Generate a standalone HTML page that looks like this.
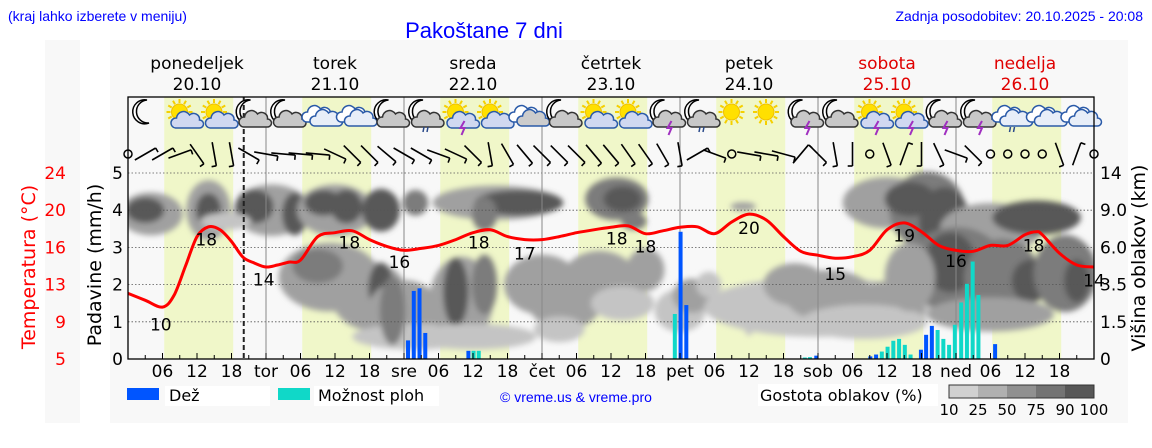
<!DOCTYPE html>
<html><head><meta charset="utf-8">
<style>
html,body{margin:0;padding:0;background:#fff;}
body{width:1152px;height:443px;overflow:hidden;font-family:"Liberation Sans","DejaVu Sans",sans-serif;}
svg text{font-family:"DejaVu Sans","Liberation Sans",sans-serif;}
</style></head>
<body>
<svg id="chart" width="1152" height="443" viewBox="0 0 1152 443" xmlns="http://www.w3.org/2000/svg">
<defs>
<filter id="blur" x="-20%" y="-20%" width="140%" height="140%"><feGaussianBlur stdDeviation="3"/></filter>
<clipPath id="plotclip"><rect x="128" y="160" width="966" height="199"/></clipPath>
</defs>
<rect x="45" y="40" width="35" height="383" fill="#f8f8f8"/>
<rect x="110" y="40" width="1018" height="383" fill="#f8f8f8"/>
<text x="8" y="21" font-size="14" fill="#0000ff" style="font-family:'Liberation Sans',sans-serif">(kraj lahko izberete v meniju)</text>
<text x="484" y="38" font-size="22" fill="#0000ff" text-anchor="middle" style="font-family:'Liberation Sans',sans-serif">Pakoštane 7 dni</text>
<text x="1143" y="21" font-size="14" fill="#0000ff" text-anchor="end" style="font-family:'Liberation Sans',sans-serif">Zadnja posodobitev: 20.10.2025 - 20:08</text>
<g id="days"></g>
<g id="bands"></g>
<g id="clouds" clip-path="url(#plotclip)" filter="url(#blur)"></g>
<g id="grid"></g>
<g id="bars"></g>
<g id="temp"></g>
<g id="icons"></g>
<g id="wind"></g>
<g id="axes"></g>
<g id="legend">
<rect x="127" y="388" width="32" height="12" fill="#0055ff"/>
<rect x="165" y="386" width="105" height="20" fill="#fff"/>
<text x="169" y="401" font-size="16">Dež</text>
<rect x="278" y="388" width="32" height="12" fill="#10d8c8"/>
<rect x="314" y="386" width="125" height="20" fill="#fff"/>
<text x="318" y="401" font-size="16">Možnost ploh</text>
<text x="500" y="402" font-size="14" fill="#0000ff" style="font-family:'Liberation Sans',sans-serif">© vreme.us &amp; vreme.pro</text>
<rect x="758" y="384" width="180" height="22" fill="#fff"/>
<text x="760" y="401" font-size="16">Gostota oblakov (%)</text>
</g>
</svg>
<script>
const NS='http://www.w3.org/2000/svg';
// ---- data ----
const dayNames=['ponedeljek','torek','sreda','četrtek','petek','sobota','nedelja'];
const dayDates=['20.10','21.10','22.10','23.10','24.10','25.10','26.10'];
const dayAbbr=['tor','sre','čet','pet','sob','ned'];
const tempHours=[0,3,6,8,10,12,14,16,18,20,22,24,26,28,30,33,36,39,42,45,48,51,54,57,60,63,66,69,72,75,78,81,84,87,90,93,96,99,102,105,108,111,114,117,120,123,126,129,132,135,138,141,144,147,150,153,156,158,159,162,165,168];
const tempValues=[11.7,11.0,10.3,11.5,14.5,17.5,18.5,18.2,17.0,15.4,14.8,14.4,14.6,14.9,15.1,17.5,17.9,18.1,17.2,16.5,16.1,16.3,16.6,17.2,17.9,18.2,17.5,17.2,17.2,17.5,17.9,18.2,18.45,18.6,17.8,18.1,18.45,18.5,17.8,19.0,19.8,19.2,17.5,16.0,15.6,15.3,15.45,16.1,18.2,18.9,18.0,16.6,16.1,16.0,16.6,16.6,17.7,18.0,17.7,15.8,14.6,14.4];
const tempLabelHours=[5.7,13.6,23.6,38.5,47.2,61,69,85,90,108,123,135,144,157.5,168];
const tempLabelTexts=['10','18','14','18','16','18','17','18','18','20','15','19','16','18','14'];
const tempLabelValues=[8.5,17.2,13.1,16.9,14.9,16.9,15.8,17.3,16.5,18.4,13.7,17.6,15.0,16.6,13.0];
const rainHours=[48.7,49.7,50.7,51.7,59.2,60.1,61.0,95.1,96.1,97.1,117.7,118.6,119.7,129.1,130.1,131.1,132.1,133.1,134.1,135.1,136.1,137.9,138.8,139.8,140.8,141.8,142.8,143.8,144.9,145.9,146.9,147.9,150.8];
const rainValues=[0.5,1.83,1.9,0.7,0.22,0.22,0.22,1.21,3.42,1.45,0.04,0.05,0.09,0.07,0.12,0.2,0.33,0.49,0.54,0.38,0.12,0.25,0.65,0.89,0.78,0.54,0.38,0.92,1.52,2.02,2.62,1.72,0.4];
const rainType=[0,0,0,0,0,1,1,1,0,0,1,1,0,0,0,1,1,1,1,1,1,0,0,0,1,1,1,1,1,1,1,1,0];
const leftTicks=[0,1,2,3,4,5];
const tempTicks=['5','9','13','16','20','24'];
const cloudTicks=['0','1.5','3.5','6.0','9.0','14'];
const windAngles=[null,-30,-30,-20,55,80,80,30,10,5,5,5,25,45,45,40,30,30,20,25,45,80,60,50,45,45,45,50,50,55,55,60,80,-30,20,null,10,10,15,-50,45,80,90,null,70,-70,90,65,20,45,null,null,null,null,70,-70,null];
const iconTypes=['moon','sunc','sunc','moonc','moonc','cloud','cloud','moonc','moonr','sunl','sunc','cloudg','moonc','sunc','sunc','moonl','moonr','sun','sun','moonl','moonc','sunl','sunl','moonl','moonl','cloudr','cloud','cloud'];
// cloud blobs: hour, level(mm scale), half-width(h), half-height, shade
const cloudBlobs=[[4,3.9,5,0.5,1],[3,4.0,3,0.3,3],[14,4.0,3.5,0.7,1],[14,4.0,2,0.4,3],[25,4.0,6,0.6,1],[22,4.1,3,0.4,3],[29,3.9,2,0.5,3],[17,3.7,4,0.2,0],
[36,4.0,6,0.6,1],[34,4.2,3,0.3,3],[38,4.1,2.5,0.4,3],[44,4.0,3,0.5,3],[50,4.2,2,0.3,2],
[35,2.2,8,0.8,1],[33,2.5,4,0.4,2],[42,1.7,6,0.8,1],[44,1.9,2,0.6,3],[48,1.2,6,0.8,1],[50,0.6,10,0.3,0],[46,1.3,2,0.8,2],
[58,1.6,5,1.0,1],[57,1.8,2,0.8,3],[62,2.0,2,0.7,2],[60,0.6,10,0.3,0],[64,4.2,10,0.4,1],[68,4.2,7,0.3,3],[62,3.9,2,0.4,2],
[72,2.0,6,0.7,1],[76,1.6,6,0.7,1],[82,2.1,6,0.7,1],[86,1.5,5,0.4,0],[90,2.4,3,0.5,1],[75,0.8,4,0.3,0],[85,4.3,5,0.5,2],[86,4.3,3,0.3,3],[88,3.7,2,0.2,2],
[96,1.3,4,0.5,0],[98,1.7,3,0.4,1],[101,2.0,2,0.3,0],
[120,1.4,18,0.7,0],[116,2.0,5,0.5,1],[122,1.7,7,0.6,1],[132,1.4,6,0.6,1],[128,1.0,10,0.4,0],[108,1.2,1,0.5,0],[107,4.1,2,0.1,1],
[132,4.2,7,0.6,1],[139,4.0,6,0.9,2],[136,4.3,4,0.4,3],[142,3.7,4,0.8,3],[150,3.5,8,0.6,1],[158,3.8,7,0.4,3],[144,2.4,8,1.0,2],[143,2.6,4,0.7,3],[152,2.2,6,0.9,2],[157,2.1,3,0.5,3],[163,2.3,5,0.9,2],[165,2.1,2,0.5,3],[136,2.2,4,0.8,1],[150,1.2,10,0.4,1]];
const densityLabels=['10','25','50','75','90','100'];
// ---- scales ----
const X0=128,HW=5.75,Y0=359,MM=37.2;
const xs=h=>X0+h*HW;
const ys=v=>Y0-v*MM;
const yt=t=>Y0-(t-5)*186/19;
function mk(tag,attrs,parent){const e=document.createElementNS(NS,tag);for(const k in attrs)e.setAttribute(k,attrs[k]);parent.appendChild(e);return e;}
const G=id=>document.getElementById(id);
const shades=['#c4c4c4','#a0a0a0','#7c7c7c','#585858'];
// days
for(let d=0;d<7;d++){
  const cx=xs(d*24+12);const red=d>=5;
  let t=mk('text',{x:cx,y:69,'font-size':17,'text-anchor':'middle',fill:red?'#e00000':'#000'},G('days'));
  t.textContent=dayNames[d];
  
  
  t=mk('text',{x:cx,y:90,'font-size':17,'text-anchor':'middle',fill:red?'#e00000':'#000'},G('days'));
  t.textContent=dayDates[d];
  
  
  let b=mk('rect',{x:xs(d*24+6.3),y:97,width:12*HW,height:262,fill:'#f0f7c9'},G('bands'));
  
  
}
// clouds
cloudBlobs.forEach(c=>{
  const e=mk('ellipse',{cx:xs(c[0]),cy:ys(c[1]),rx:c[2]*HW*1.1,ry:c[3]*MM*1.15,fill:shades[c[4]]},G('clouds'));
  
  
});
// grid
leftTicks.forEach(v=>{if(v>0){const l=mk('line',{x1:128,x2:1094,y1:ys(v),y2:ys(v),stroke:'#555','stroke-width':0.8,'stroke-dasharray':'1.5,2'},G('grid'));}});
for(let d=1;d<7;d++){const l=mk('line',{x1:xs(d*24),x2:xs(d*24),y1:97,y2:359,stroke:'#888','stroke-width':1},G('grid'));}
const nowL=mk('line',{x1:xs(20.13),x2:xs(20.13),y1:97,y2:359,stroke:'#222','stroke-width':2,'stroke-dasharray':'5,3'},G('grid'));


// bars
rainHours.forEach((h,i)=>{
  const v=rainValues[i];
  const r=mk('rect',{x:xs(h)-2,y:ys(v),width:4,height:v*MM,fill:rainType[i]?'#10d8c8':'#0055ff'},G('bars'));
  
  
});
// temp line (smooth)
(function(){
  const pts=tempHours.map((h,i)=>[xs(h),yt(tempValues[i])]);
  let d='M'+pts[0][0]+','+pts[0][1];
  for(let i=0;i<pts.length-1;i++){
    const p0=pts[Math.max(0,i-1)],p1=pts[i],p2=pts[i+1],p3=pts[Math.min(pts.length-1,i+2)];
    const c1=[p1[0]+(p2[0]-p0[0])/6,p1[1]+(p2[1]-p0[1])/6],c2=[p2[0]-(p3[0]-p1[0])/6,p2[1]-(p3[1]-p1[1])/6];
    d+=' C'+c1[0].toFixed(1)+','+c1[1].toFixed(1)+' '+c2[0].toFixed(1)+','+c2[1].toFixed(1)+' '+p2[0].toFixed(1)+','+p2[1].toFixed(1);
  }
  const p=mk('path',{d:d,fill:'none',stroke:'#ff0000','stroke-width':3},G('temp'));
  
  
  tempLabelHours.forEach((h,i)=>{
    const t=mk('text',{x:xs(h),y:yt(tempLabelValues[i])+6,'font-size':17,'text-anchor':'middle',fill:'#000'},G('temp'));
    t.textContent=tempLabelTexts[i];
    
    
  });
})();
// icons
function moon(g,x,y){mk('path',{d:`M${x+3},${y-12} A12,12 0 1,0 ${x+5},${y+11} A10,10 0 1,1 ${x+3},${y-12}Z`,fill:'#fff',stroke:'#000','stroke-width':1.5},g);}
function sun(g,x,y){for(let a=0;a<360;a+=30){const r=a*Math.PI/180;mk('line',{x1:x+Math.cos(r)*9,y1:y+Math.sin(r)*9,x2:x+Math.cos(r)*13,y2:y+Math.sin(r)*13,stroke:'#f5d000','stroke-width':2},g);}mk('circle',{cx:x,cy:y,r:8,fill:'#ffe000',stroke:'#f0c000'},g);}
function cloud(g,x,y,fill,st){mk('path',{d:`M${x-12},${y+7} a5,5 0 0,1 1,-10 a7,7 0 0,1 13,-3 a6,6 0 0,1 10,5 a4,4 0 0,1 0,8 Z`,fill:fill,stroke:st,'stroke-width':1.5},g);}
iconTypes.forEach((t,i)=>{
  const x=148+34.5*i,y=115;
  const g=mk('g',{},G('icons'));
  
  
  if(t.startsWith('moon')){moon(g,x-4,y-3);if(t!=='moon')cloud(g,x+4,y+5,'#c8c8c8','#333');}
  if(t.startsWith('sun')){sun(g,x-3,y-3);if(t!=='sun')cloud(g,x+5,y+6,'#d0d8f0','#2a5aa8');}
  if(t.startsWith('cloud')){cloud(g,x-2,y,'#fff','#2a5aa8');cloud(g,x+6,y+4,t==='cloudg'?'#ccc':'#e8eef8','#2a5aa8');}
  if(t.endsWith('l')){mk('path',{d:`M${x+6},${y+6} l-4,7 h4 l-3,7`,fill:'none',stroke:'#a030c0','stroke-width':2},g);}
  if(t.endsWith('r')){mk('path',{d:`M${x},${y+12} l-1,5 M${x+4},${y+12} l-1,5`,stroke:'#2a4a8a','stroke-width':1.5},g);}
});
// wind
windAngles.forEach((a,i)=>{
  const x=xs(i*3),y=154;
  const g=mk('g',{},G('wind'));
  
  
  if(a===null){mk('circle',{cx:x,cy:y,r:4,fill:'none',stroke:'#000','stroke-width':1.5},g);return;}
  const r=a*Math.PI/180,L=12;
  const dx=Math.cos(r)*L,dy=Math.sin(r)*L;
  mk('line',{x1:x-dx,y1:y-dy,x2:x+dx,y2:y+dy,stroke:'#000','stroke-width':1.6},g);
  mk('line',{x1:x+dx,y1:y+dy,x2:x+dx-dy*0.4,y2:y+dy+dx*0.4,stroke:'#000','stroke-width':1.6},g);
});
// axes
(function(){
  const ax=G('axes');
  mk('rect',{x:128,y:97,width:966,height:262,fill:'none',stroke:'#000','stroke-width':1.3},ax);
  leftTicks.forEach((v,i)=>{
    let t=mk('text',{x:123,y:ys(v)+6,'font-size':17,'text-anchor':'end'},ax);t.textContent=v;
    
    
    t=mk('text',{x:66,y:ys(v)+6,'font-size':17,'text-anchor':'end',fill:'#ff0000'},ax);t.textContent=tempTicks[i];
    
    
    t=mk('text',{x:1100,y:ys(v)+6,'font-size':17},ax);t.textContent=cloudTicks[i];
    
    
  });
  for(let h=3;h<168;h+=3){mk('line',{x1:xs(h),x2:xs(h),y1:359,y2:h%6?355:353,stroke:'#000','stroke-width':1},ax);}
  for(let h=6;h<168;h+=6){
    const t=mk('text',{x:xs(h),y:377,'font-size':17,'text-anchor':'middle'},ax);
    t.textContent=h%24===0?dayAbbr[h/24-1]:String(h%24).padStart(2,'0');
    
    
  }
  let t=mk('text',{x:0,y:0,'font-size':19,'text-anchor':'middle',transform:'translate(101,265) rotate(-90)'},ax);t.textContent='Padavine (mm/h)';
  
  t=mk('text',{x:0,y:0,'font-size':19,'text-anchor':'middle',fill:'#ff0000',transform:'translate(35,267) rotate(-90)'},ax);t.textContent='Temperatura (°C)';
  
  t=mk('text',{x:0,y:0,'font-size':19,'text-anchor':'middle',transform:'translate(1145,258) rotate(-90)'},ax);t.textContent='Višina oblakov (km)';
  
  const cb=['#d0d0d0','#b0b0b0','#909090','#737373','#575757'];
  cb.forEach((c,i)=>{const r=mk('rect',{x:949+i*29,y:385,width:29,height:13,fill:c},G('legend'));});
  mk('rect',{x:949,y:385,width:145,height:13,fill:'none',stroke:'#333'},G('legend'));
  densityLabels.forEach((s,i)=>{const tt=mk('text',{x:949+i*29,y:415,'font-size':15,'text-anchor':'middle'},G('legend'));tt.textContent=s;});
})();
</script>
</body></html>
